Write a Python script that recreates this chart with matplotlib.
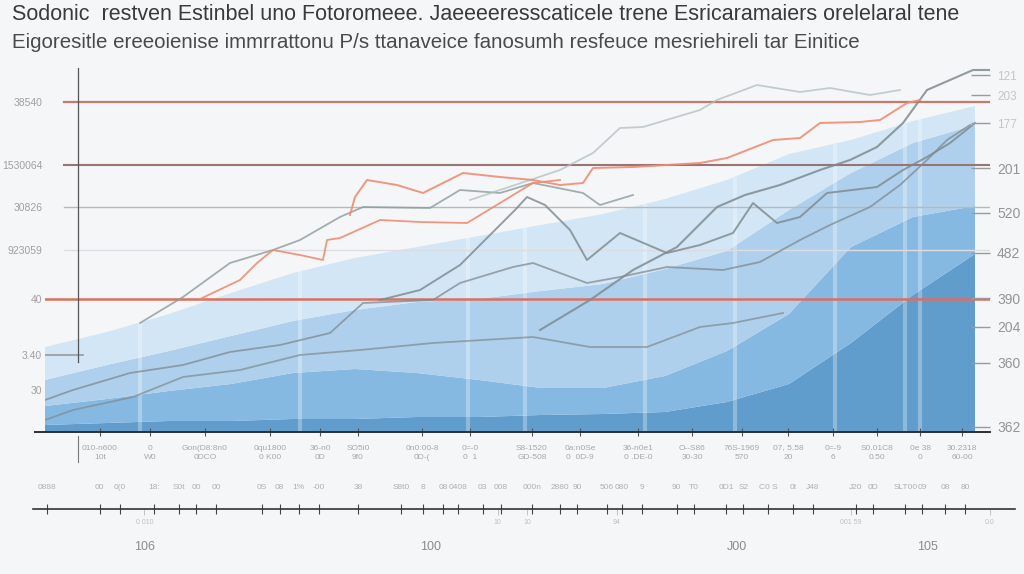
import numpy as np
import matplotlib.pyplot as plt

plt.rcParams['font.family'] = ['Liberation Sans Narrow', 'Liberation Sans', 'DejaVu Sans']

title_1 = ("Sodonic  restven Estinbel uno Fotoromeee. Jaeeeeresscaticele trene "
           "Esricaramaiers orelelaral tene")
title_2 = ("Eigoresitle ereeoienise immrrattonu P/s ttanaveice fanosumh resfeuce "
           "mesriehireli tar Einitice")

# stacked bands (bottom -> top)
band_x = [0, 62, 124, 186, 248, 310, 372, 434, 496, 558, 620, 682, 744, 806, 868, 930]
band_1 = [7, 9, 11, 11, 13, 13, 15, 15, 17, 18, 20, 30, 48, 89, 137, 178]
band_2 = [19, 24, 30, 37, 46, 50, 44, 37, 27, 26, 36, 51, 70, 96, 78, 48]
band_3 = [26, 34, 40, 48, 52, 59, 71, 81, 97, 104, 107, 100, 104, 74, 74, 81]
band_4 = [33, 33, 37, 43, 48, 52, 55, 63, 66, 70, 70, 71, 56, 33, 22, 19]
band_colors = ['#5394c9', '#7db4df', '#a8cdeb', '#d0e5f5']

# line series
orange_low_x = [155, 195, 212, 228, 255, 278, 282, 295, 335, 375, 422, 455, 488, 515]
orange_low_y = [133, 152, 169, 182, 177, 172, 192, 194, 212, 210, 209, 229, 249, 252]
orange_up_x = [305, 310, 322, 352, 378, 418, 455, 488, 515, 538, 548, 588, 655, 682,
               728, 755, 775, 815, 835, 862, 875]
orange_up_y = [217, 235, 252, 247, 239, 259, 255, 252, 247, 249, 264, 265, 269, 274,
               292, 294, 309, 310, 312, 329, 332]
gray_a_x = [425, 485, 515, 548, 575, 598, 655, 672, 712, 755, 785, 825, 855]
gray_a_y = [232, 252, 262, 279, 304, 305, 322, 332, 347, 340, 344, 337, 342]
gray_b_x = [495, 545, 588, 632, 672, 700, 735, 775, 805, 832, 858, 882, 905, 928, 945]
gray_b_y = [102, 132, 162, 185, 225, 237, 247, 262, 272, 285, 309, 342, 352, 362, 362]
gray_c_x = [95, 138, 185, 228, 255, 295, 318, 385, 415, 455, 488, 538, 555, 588]
gray_c_y = [109, 135, 169, 182, 192, 215, 225, 224, 242, 239, 249, 239, 227, 237]
gray_d_x = [335, 375, 415, 445, 470, 482, 500, 525, 542, 575, 622, 655, 688, 708, 732,
            755, 782, 832, 858, 882, 905, 930]
gray_d_y = [132, 142, 167, 197, 222, 235, 227, 202, 172, 199, 179, 187, 199, 229, 209,
            215, 239, 245, 262, 275, 289, 309]
gray_e_x = [0, 28, 88, 138, 195, 255, 315, 388, 488, 545, 602, 655, 688, 738]
gray_e_y = [12, 22, 35, 55, 62, 77, 82, 89, 95, 85, 85, 105, 109, 119]
gray_f_x = [0, 28, 85, 138, 185, 235, 285, 318, 388, 415, 468, 488, 542, 575, 622, 678,
            715, 755, 785, 825, 855, 882, 902, 925]
gray_f_y = [32, 42, 59, 67, 80, 87, 99, 129, 132, 149, 165, 169, 149, 155, 165, 162,
            170, 192, 207, 225, 247, 272, 292, 307]

# reference levels
ref_levels = [330, 267, 225, 182, 133]
ref_colors = ['#c9786b', '#9a7474', '#b9b9bb', '#dcdde0', '#dc6f5e']
ref_widths = [1.6, 1.5, 1.0, 1.0, 1.8]
ref_start = [0.02, 0.02, 0.02, 0.02, 0.0]

left_ticks = [330, 267, 225, 182, 133, 77, 42]
left_labels = ['38540', '1530064', '30826', '923059', '40', '3.40', '30']
right_ticks = [357, 337, 309, 264, 219, 179, 134, 105, 69, 5]
right_labels = ['121', '203', '177', '201', '520', '482', '390', '204', '360', '362']

stripe_x = [95, 255, 423, 480, 600, 690, 790, 860, 875]

x_ticks = [55, 105, 160, 225, 275, 313, 377, 425, 487, 535, 593, 647, 697, 743, 788,
           832, 875, 917]
x_labels = ['010-n600\n10t', '0\nW0', 'Gon(D8:8n0\n0DCO', '0qu1800\n0 K00',
            '36-n0\n0D', 'SO5i0\n9f0', '0n0:00-8\n0D-(', '0=-0\n0  1',
            'S8-1520\nGD-508', '0a:n0Se\n0  0D-9', '36-n0e1\n0 .DE-0', 'O--S86\n30-30',
            '76S-1969\n570', '07, 5.58\n20', '0=-9\n6', 'S0.01C8\n0.50', '0e 38\n0',
            '30.2318\n60-00']

sub_ticks = [2, 55, 75, 110, 135, 152, 172, 218, 236, 255, 275, 315, 358, 380, 400,
             415, 440, 458, 490, 518, 535, 565, 580, 600, 635, 652, 685, 702, 727, 752,
             772, 815, 832, 865, 882, 905, 925]
sub_labels = ['0888', '00', '0(0', '18:', 'S0t', '00', '00', '0S', '08', '1%', '-00',
              '38', 'S8t0', '8', '08', '0408', '03', '008', '000n', '2880', '90', '506',
              '080', '9', '90', 'T0', '0D1', 'S2', 'C0 S', '0t', 'J48', 'J20', '0D',
              'SLT00', '09', '08', '80']
sub_minor = [2, 75, 100, 455, 485, 575, 810, 950]
sub_minor_labels = ['J0', '0', '0 010', '10', '10', '94', '001 59', '0.0']

big_labels = ['106', '100', 'J00', '105']
big_pos = [100, 386, 692, 883]

fig = plt.figure(figsize=(10.24, 5.74), dpi=100, facecolor='#f4f6f8')
ax = fig.add_axes([45 / 1024, 1 - 432 / 574, 945 / 1024, 370 / 574])
ax.set_facecolor('none')

ax.stackplot(band_x, band_1, band_2, band_3, band_4, colors=band_colors,
             alpha=0.92, linewidth=0, zorder=1)

band_top = np.array(band_1) + np.array(band_2) + np.array(band_3) + np.array(band_4)
for sx in stripe_x:
    top = np.interp(sx, band_x, band_top)
    ax.vlines(sx, 0, top, color='white', alpha=0.3, linewidth=3, zorder=1.5)

for lev, c, w, s in zip(ref_levels, ref_colors, ref_widths, ref_start):
    ax.axhline(lev, xmin=s, xmax=1, color=c, linewidth=w, zorder=2.5)
ax.axhline(77, xmin=0, xmax=0.04, color='#9a9a9a', linewidth=1.2, zorder=2.5)

ax.axvline(33, ymin=70 / 370, ymax=364 / 370, color='#555555', linewidth=0.9, zorder=3)
ax.axvline(33, ymin=-0.08, ymax=-0.012, color='#777777', linewidth=0.8, clip_on=False)

ax.plot(gray_e_x, gray_e_y, color='#7f8a90', lw=1.3, alpha=0.7, zorder=3)
ax.plot(gray_f_x, gray_f_y, color='#7f8a90', lw=1.3, alpha=0.75, zorder=3)
ax.plot(gray_c_x, gray_c_y, color='#8d9c9c', lw=1.3, alpha=0.8, zorder=3)
ax.plot(gray_d_x, gray_d_y, color='#7c878c', lw=1.4, alpha=0.8, zorder=3)
ax.plot(gray_b_x, gray_b_y, color='#808b90', lw=1.5, alpha=0.85, zorder=3)
ax.plot(gray_a_x, gray_a_y, color='#b2bfc0', lw=1.3, alpha=0.75, zorder=3)
ax.plot(orange_low_x, orange_low_y, color='#f08c72', lw=1.3, alpha=0.9, zorder=3.2)
ax.plot(orange_up_x, orange_up_y, color='#f08c72', lw=1.4, alpha=0.9, zorder=3.2)

ax.set_xlim(0, 945)
ax.set_ylim(0, 370)
for side in ['top', 'right', 'left']:
    ax.spines[side].set_visible(False)
ax.spines['bottom'].set_color('#2f2f2f')
ax.spines['bottom'].set_linewidth(1.4)
ax.spines['bottom'].set_bounds(-10, 945)

ax.set_yticks(left_ticks)
ax.set_yticklabels(left_labels)
ax.tick_params(axis='y', length=0, pad=2, labelsize=7.5, labelcolor='#a0a0a0')
ax.set_xticks(x_ticks)
ax.set_xticklabels(x_labels, linespacing=1.5)
ax.tick_params(axis='x', direction='inout', length=6, width=0.8, color='#555555',
               labelsize=6, labelcolor='#a8a8a8', pad=6)

axr = ax.twinx()
axr.set_ylim(0, 370)
axr.set_yticks(right_ticks)
axr.set_yticklabels(right_labels)
for side in ['top', 'right', 'left', 'bottom']:
    axr.spines[side].set_visible(False)
axr.tick_params(axis='y', direction='in', length=14, width=1, color='#9a9a9a',
                pad=5, labelcolor='#8a8a8a')
for i, t in enumerate(axr.get_yticklabels()):
    t.set_fontsize(8.5 if i < 3 else 10)
    t.set_alpha(0.45 if i < 3 else 0.9)

axb = fig.add_axes([45 / 1024, 1 - 509 / 574, 945 / 1024, 0.001])
axb.set_facecolor('none')
axb.set_xlim(0, 945)
axb.set_yticks([])
for side in ['top', 'right', 'left']:
    axb.spines[side].set_visible(False)
axb.spines['bottom'].set_color('#333333')
axb.spines['bottom'].set_linewidth(1.2)
axb.spines['bottom'].set_bounds(-12, 975)
axb.set_xticks(sub_ticks)
axb.set_xticklabels(sub_labels)
axb.set_xticks(sub_minor, minor=True)
axb.set_xticklabels(sub_minor_labels, minor=True)
axb.tick_params(axis='x', which='major', direction='inout', length=7, width=0.8,
                color='#444444', labelbottom=False, labeltop=True, labelsize=6,
                labelcolor='#b0b0b0', pad=9)
axb.tick_params(axis='x', which='minor', direction='out', length=4, width=0.6,
                color='#bbbbbb', labelsize=5, labelcolor='#c0c0c0', pad=3)

axc = fig.add_axes([45 / 1024, 1 - 547 / 574, 945 / 1024, 0.001])
axc.set_xlim(0, 945)
axc.axis('off')
for lab, pos in zip(big_labels, big_pos):
    axc.text(pos, 0, lab, ha='center', va='center', fontsize=9, color='#8c8c8c')

fig.text(12 / 1024, 1 - 15 / 574, title_1, fontsize=15.5, color='#3a3a3a',
         va='center', ha='left')
fig.text(12 / 1024, 1 - 42 / 574, title_2, fontsize=14.8, color='#4a4a4a',
         va='center', ha='left')

fig.savefig('out.png', dpi=100, facecolor=fig.get_facecolor())
